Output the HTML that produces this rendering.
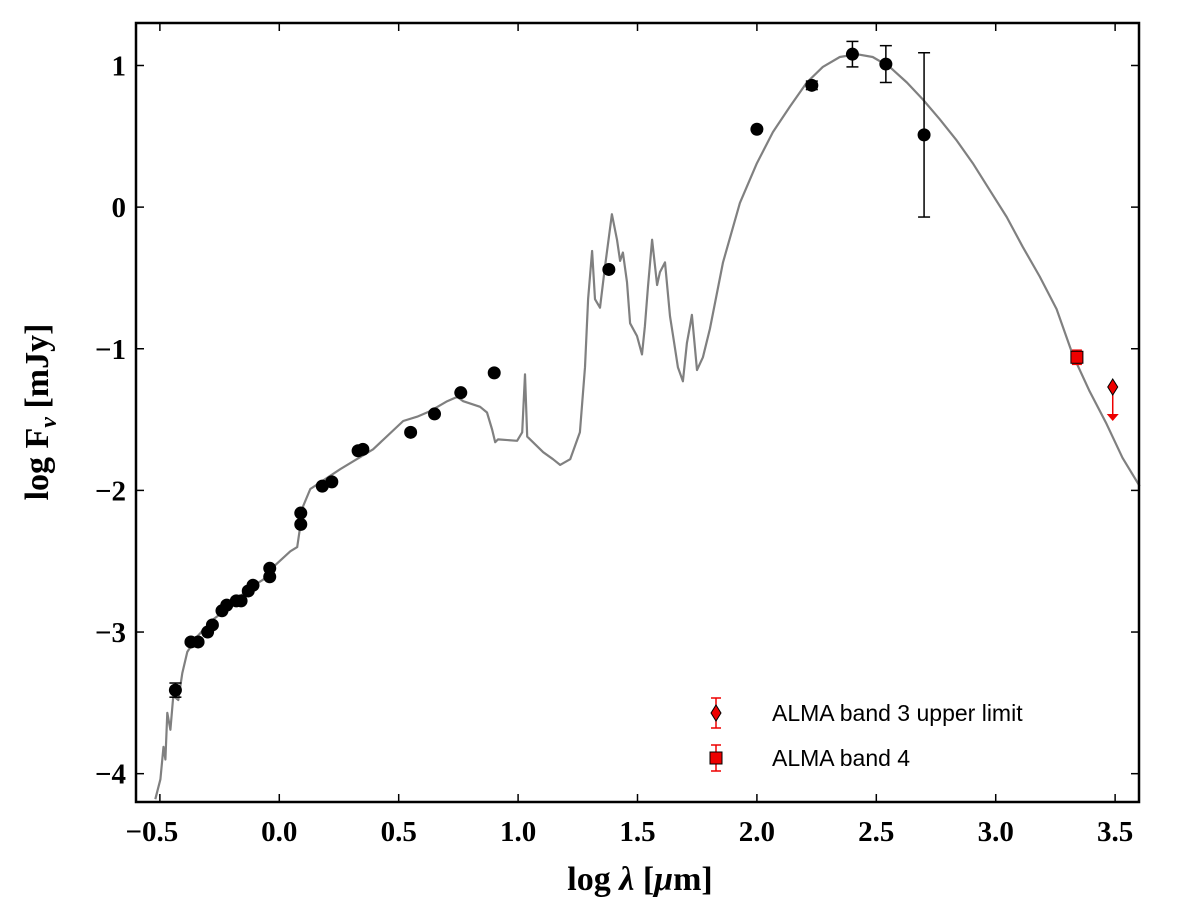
<!DOCTYPE html>
<html><head><meta charset="utf-8"><style>
body{margin:0;background:#fff;}
svg{display:block;}
.tk{font-family:"Liberation Serif",serif;font-weight:bold;font-size:29px;fill:#000;}
.lab{font-family:"Liberation Serif",serif;font-weight:bold;font-size:34px;fill:#000;}
.leg{font-family:"Liberation Sans",sans-serif;font-size:23px;fill:#000;}
</style></head><body>
<svg id="chart" width="1200" height="905">
<rect x="0" y="0" width="1200" height="905" fill="#fff"/>
<g id="curve"></g>
<g id="pts"></g>
<g id="axes"></g>
<g>
 <g>
  <line x1="716" y1="698" x2="716" y2="728" stroke="#e00" stroke-width="1.5"/>
  <line x1="711" y1="698" x2="721" y2="698" stroke="#e00" stroke-width="1.5"/>
  <line x1="711" y1="728" x2="721" y2="728" stroke="#e00" stroke-width="1.5"/>
  <polygon points="716,705 721,713 716,721 711,713" fill="#e00" stroke="#000" stroke-width="1"/>
  <text class="leg" x="772" y="721">ALMA band 3 upper limit</text>
 </g>
 <g>
  <line x1="716" y1="745" x2="716" y2="771" stroke="#e00" stroke-width="1.5"/>
  <line x1="711" y1="745" x2="721" y2="745" stroke="#e00" stroke-width="1.5"/>
  <line x1="711" y1="771" x2="721" y2="771" stroke="#e00" stroke-width="1.5"/>
  <rect x="710" y="752" width="12" height="12" fill="#e00" stroke="#000" stroke-width="1"/>
  <text class="leg" x="772" y="766">ALMA band 4</text>
 </g>
</g>
<text class="lab" x="640" y="890" text-anchor="middle">log <tspan font-style="italic">λ</tspan> [<tspan font-style="italic">μ</tspan>m]</text>
<text class="lab" transform="translate(48,412) rotate(-90)" text-anchor="middle">log F<tspan font-size="24" dy="8" font-style="italic">ν</tspan><tspan dy="-8"> [mJy]</tspan></text>
</svg>
<script>
const curveX=[-0.519,-0.498,-0.485,-0.477,-0.469,-0.456,-0.444,-0.423,-0.406,-0.385,-0.343,-0.276,-0.205,-0.134,-0.067,-0.025,0.046,0.075,0.100,0.130,0.255,0.393,0.519,0.577,0.632,0.703,0.745,0.770,0.841,0.870,0.891,0.904,0.916,0.996,1.017,1.029,1.038,1.105,1.146,1.176,1.218,1.259,1.280,1.293,1.310,1.322,1.343,1.364,1.393,1.414,1.427,1.439,1.456,1.469,1.498,1.519,1.531,1.544,1.561,1.582,1.594,1.615,1.636,1.649,1.669,1.690,1.707,1.720,1.728,1.749,1.774,1.803,1.858,1.929,2.000,2.067,2.138,2.209,2.276,2.347,2.418,2.485,2.556,2.628,2.695,2.766,2.837,2.904,2.975,3.046,3.113,3.184,3.255,3.322,3.393,3.464,3.531,3.603];
const curveY=[-4.18,-4.04,-3.81,-3.90,-3.57,-3.69,-3.45,-3.48,-3.29,-3.14,-3.03,-2.91,-2.82,-2.70,-2.63,-2.54,-2.43,-2.40,-2.11,-1.99,-1.85,-1.71,-1.51,-1.48,-1.44,-1.37,-1.34,-1.37,-1.41,-1.45,-1.57,-1.66,-1.64,-1.65,-1.59,-1.18,-1.62,-1.73,-1.78,-1.82,-1.78,-1.59,-1.13,-0.65,-0.31,-0.65,-0.71,-0.42,-0.05,-0.23,-0.38,-0.32,-0.53,-0.82,-0.91,-1.04,-0.84,-0.56,-0.23,-0.55,-0.46,-0.39,-0.77,-0.91,-1.13,-1.23,-0.96,-0.84,-0.76,-1.15,-1.06,-0.86,-0.39,0.03,0.31,0.53,0.71,0.88,0.99,1.06,1.08,1.06,0.99,0.88,0.76,0.62,0.47,0.31,0.12,-0.07,-0.28,-0.49,-0.72,-1.04,-1.30,-1.53,-1.77,-1.97];
const ptX=[-0.435,-0.37,-0.34,-0.30,-0.28,-0.24,-0.22,-0.18,-0.16,-0.13,-0.11,-0.04,-0.04,0.09,0.09,0.18,0.22,0.33,0.35,0.55,0.65,0.76,0.90,1.38,2.00,2.23,2.40,2.54,2.70];
const ptY=[-3.41,-3.07,-3.07,-3.0,-2.95,-2.85,-2.81,-2.78,-2.78,-2.71,-2.67,-2.55,-2.61,-2.16,-2.24,-1.97,-1.94,-1.72,-1.71,-1.59,-1.46,-1.31,-1.17,-0.44,0.55,0.86,1.08,1.01,0.51];
const ptErr=[0.05,0,0,0,0,0,0,0,0,0,0,0,0,0,0,0,0,0,0,0,0,0,0,0,0,0.03,0.09,0.13,0.58];
const alma4=[3.34,-1.06,0.05];
const alma3=[3.49,-1.27,-1.51];
const xTicks=[-0.5,0.0,0.5,1.0,1.5,2.0,2.5,3.0,3.5];
const yTicks=[-4,-3,-2,-1,0,1];
const X0=-0.6,X1=3.6,Y0=-4.2,Y1=1.3,L=136,R=1139,T=23,B=802;
const sx=v=>L+(v-X0)/(X1-X0)*(R-L);
const sy=v=>B-(v-Y0)/(Y1-Y0)*(B-T);
const NS="http://www.w3.org/2000/svg";
function mk(t,a,p){const e=document.createElementNS(NS,t);for(const k in a)e.setAttribute(k,a[k]);p.appendChild(e);return e;}
const cg=document.getElementById('curve');
const cp=mk('polyline',{points:curveX.map((x,i)=>sx(x).toFixed(1)+','+sy(curveY[i]).toFixed(1)).join(' '),fill:'none',stroke:'#808080','stroke-width':2.2,'stroke-linejoin':'round'},cg);


const pg=document.getElementById('pts');
ptX.forEach((x,i)=>{
 const cx=sx(x),cy=sy(ptY[i]);
 if(ptErr[i]>0){const t=sy(ptY[i]+ptErr[i]),b=sy(ptY[i]-ptErr[i]);
  mk('line',{x1:cx,y1:t,x2:cx,y2:b,stroke:'#000','stroke-width':1.5},pg);
  mk('line',{x1:cx-6,y1:t,x2:cx+6,y2:t,stroke:'#000','stroke-width':1.5},pg);
  mk('line',{x1:cx-6,y1:b,x2:cx+6,y2:b,stroke:'#000','stroke-width':1.5},pg);}
 const c=mk('circle',{cx:cx,cy:cy,r:6.5,fill:'#000'},pg);
 
 
});
{const cx=sx(alma4[0]),cy=sy(alma4[1]),t=sy(alma4[1]+alma4[2]),b=sy(alma4[1]-alma4[2]);
 mk('line',{x1:cx,y1:t,x2:cx,y2:b,stroke:'#e00','stroke-width':1.5},pg);
 mk('line',{x1:cx-5,y1:t,x2:cx+5,y2:t,stroke:'#e00','stroke-width':1.5},pg);
 mk('line',{x1:cx-5,y1:b,x2:cx+5,y2:b,stroke:'#e00','stroke-width':1.5},pg);
 const r=mk('rect',{x:cx-6,y:cy-6,width:12,height:12,fill:'#e00',stroke:'#000','stroke-width':1},pg);
 
 }
{const cx=sx(alma3[0]),cy=sy(alma3[1]),b=sy(alma3[2]);
 mk('line',{x1:cx,y1:cy,x2:cx,y2:b-6,stroke:'#e00','stroke-width':1.5},pg);
 mk('polygon',{points:`${cx-6},${b-7} ${cx+6},${b-7} ${cx},${b}`,fill:'#e00'},pg);
 const d=mk('polygon',{points:`${cx},${cy-8} ${cx+5},${cy} ${cx},${cy+8} ${cx-5},${cy}`,fill:'#e00',stroke:'#000','stroke-width':1},pg);
 
 }
const ag=document.getElementById('axes');
mk('rect',{x:L,y:T,width:R-L,height:B-T,fill:'none',stroke:'#000','stroke-width':2.5},ag);
xTicks.forEach(v=>{const x=sx(v);
 mk('line',{x1:x,y1:B,x2:x,y2:B-8,stroke:'#000','stroke-width':1.5},ag);
 mk('line',{x1:x,y1:T,x2:x,y2:T+8,stroke:'#000','stroke-width':1.5},ag);
 const t=mk('text',{x:x-(v<0?8:0),y:B+39,'text-anchor':'middle',class:'tk'},ag);
 t.textContent=(v<0?'−':'')+Math.abs(v).toFixed(1);
 
 });
yTicks.forEach(v=>{const y=sy(v);
 mk('line',{x1:L,y1:y,x2:L+8,y2:y,stroke:'#000','stroke-width':1.5},ag);
 mk('line',{x1:R,y1:y,x2:R-8,y2:y,stroke:'#000','stroke-width':1.5},ag);
 const t=mk('text',{x:L-10,y:y+10,'text-anchor':'end',class:'tk'},ag);
 t.textContent=(v<0?'−':'')+Math.abs(v);
 
 });
</script>
</body></html>
